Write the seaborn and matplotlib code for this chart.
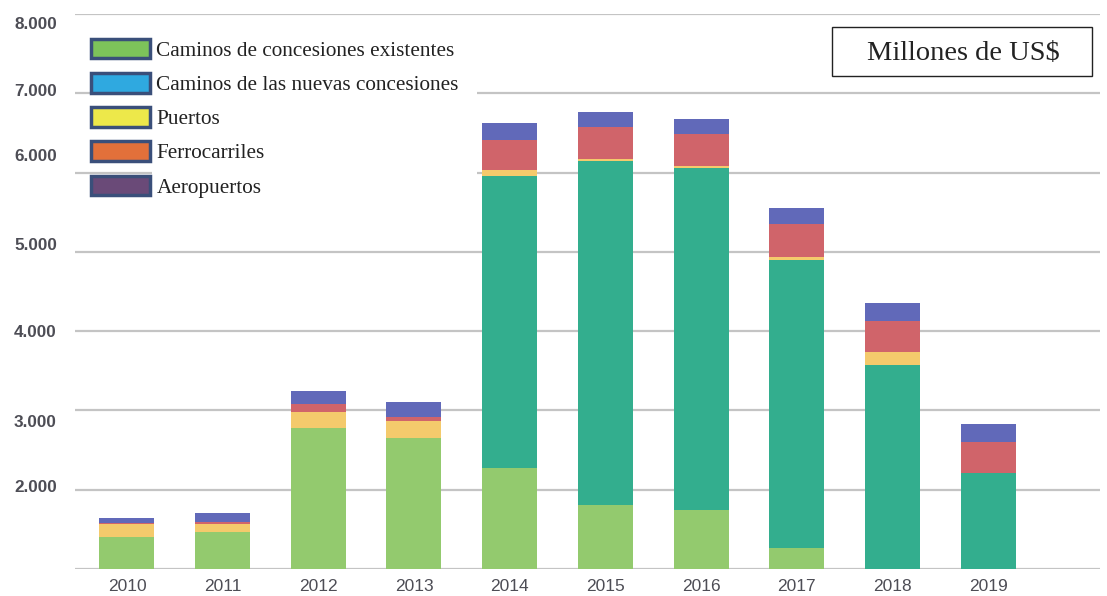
import numpy as np
import pandas as pd
import matplotlib
matplotlib.use("Agg")
import matplotlib.pyplot as plt
import matplotlib.transforms as mtransforms
import seaborn as sns
from matplotlib.patches import Patch, Rectangle
from matplotlib.ticker import FuncFormatter

years = ["2010", "2011", "2012", "2013", "2014", "2015", "2016", "2017", "2018", "2019"]
caminos_existentes = [1407, 1463, 2774, 2656, 2270, 1807, 1744, 1261, 0, 0]
caminos_nuevas = [0, 0, 0, 0, 3686, 4343, 4309, 3636, 3573, 2207]
puertos = [157, 101, 210, 210, 76, 20, 29, 34, 160, 0]
ferrocarriles = [20, 25, 93, 55, 378, 401, 399, 416, 399, 391]
aeropuertos = [59, 117, 168, 185, 210, 189, 189, 202, 219, 227]

series_names = ["Caminos de concesiones existentes", "Caminos de las nuevas concesiones",
                "Puertos", "Ferrocarriles", "Aeropuertos"]
series_values = [caminos_existentes, caminos_nuevas, puertos, ferrocarriles, aeropuertos]
bar_colors = ["#93CA6E", "#33AE8E", "#F4CA6C", "#D0646A", "#6169B9"]
legend_colors = ["#7DC35A", "#2FA9E0", "#EDE84A", "#E2703A", "#6A4A78"]

y_ticks = [1000, 2000, 3000, 4000, 5000, 6000, 7000, 8000]
# vertical shift (pixels, downward) of each tick label in the original picture
y_label_shift = [0, -3.5, 11, 0, -8, -18, -3, 9]

sns.set_theme(style="white")
plt.rcParams["font.family"] = ["Liberation Sans", "DejaVu Sans"]

fig = plt.figure(figsize=(11.07, 5.96), dpi=100)
ax = fig.add_axes([75 / 1107, 1 - 569 / 596, 1025 / 1107, 555 / 596])

cum = np.cumsum(np.array(series_values, dtype=float), axis=0)
for i in range(len(series_names) - 1, -1, -1):
    df = pd.DataFrame({"year": years, "value": cum[i]})
    sns.barplot(data=df, x="year", y="value", color=bar_colors[i], saturation=1,
                width=0.575, errorbar=None, ax=ax, zorder=3, linewidth=0)

ax.set_ylim(1000, 8000)
ax.set_xlim(-0.543, 10.17)
ax.set_yticks(y_ticks)
ax.yaxis.set_major_formatter(FuncFormatter(lambda v, p: "" if v < 1500 else f"{int(v):,}".replace(",", ".")))
ax.grid(axis="y", color="#c4c4c4", lw=1.6, zorder=0)
ax.set_axisbelow(True)
for s in ax.spines.values():
    s.set_visible(False)
ax.set_xlabel("")
ax.set_ylabel("")
ax.tick_params(axis="both", length=0, labelcolor="#4d4d55")
ax.tick_params(axis="y", pad=13, labelsize=12.3)
ax.tick_params(axis="x", pad=7, labelsize=12.5)
fig.canvas.draw()
for lab, dy in zip(ax.get_yticklabels(), y_label_shift):
    lab.set_fontweight("bold")
    lab.set_transform(lab.get_transform() +
                      mtransforms.ScaledTranslation(0, -dy / 100, fig.dpi_scale_trans))

# white area behind legend text (hides gridlines there, as in the original)
fig.patches.append(Rectangle((152 / 1107, 1 - 200 / 596), 325 / 1107, 170 / 596,
                             transform=fig.transFigure, facecolor="white",
                             edgecolor="none", zorder=1))

handles = [Patch(facecolor=c, edgecolor="#3A4F7A", linewidth=2.5) for c in legend_colors]
leg = fig.legend(handles, series_names, loc="upper left",
                 bbox_to_anchor=(80 / 1107, 1 - 28 / 596), bbox_transform=fig.transFigure,
                 frameon=False, borderpad=0.0, handlelength=2.8, handleheight=1.05,
                 labelspacing=0.57, handletextpad=0.3,
                 prop={"family": "Liberation Serif", "size": 15.3})
leg.set_zorder(2)
for t in leg.get_texts():
    t.set_color("#222222")

fig.patches.append(Rectangle((832 / 1107, 1 - 76 / 596), 260 / 1107, 49 / 596,
                             transform=fig.transFigure, facecolor="white",
                             edgecolor="#222222", lw=1.0, zorder=5))
fig.text(963 / 1107, 1 - 53 / 596, "Millones de US$", ha="center", va="center",
         fontsize=20.5, family="Liberation Serif", color="#222222", zorder=6)

fig.savefig("out.png", dpi=100)
